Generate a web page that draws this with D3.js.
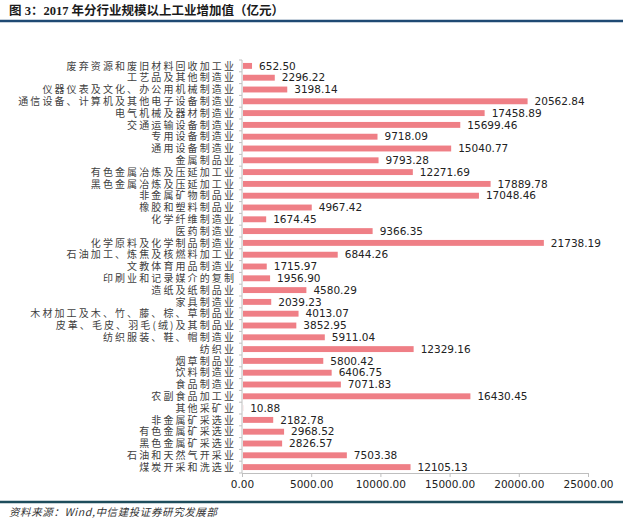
<!DOCTYPE html>
<html>
<head>
<meta charset="utf-8">
<script src="https://cdn.jsdelivr.net/npm/d3@7"></script>
<style>
  body { margin: 0; background: #fff; }
  svg { display: block; }
</style>
</head>
<body>
<script>
const categories = [
  '废弃资源和废旧材料回收加工业', '工艺品及其他制造业', '仪器仪表及文化、办公用机械制造业',
  '通信设备、计算机及其他电子设备制造业', '电气机械及器材制造业', '交通运输设备制造业',
  '专用设备制造业', '通用设备制造业', '金属制品业', '有色金属冶炼及压延加工业',
  '黑色金属冶炼及压延加工业', '非金属矿物制品业', '橡胶和塑料制品业', '化学纤维制造业',
  '医药制造业', '化学原料及化学制品制造业', '石油加工、炼焦及核燃料加工业', '文教体育用品制造业',
  '印刷业和记录媒介的复制', '造纸及纸制品业', '家具制造业', '木材加工及木、竹、藤、棕、草制品业',
  '皮革、毛皮、羽毛(绒)及其制品业', '纺织服装、鞋、帽制造业', '纺织业', '烟草制品业',
  '饮料制造业', '食品制造业', '农副食品加工业', '其他采矿业', '非金属矿采选业',
  '有色金属矿采选业', '黑色金属矿采选业', '石油和天然气开采业', '煤炭开采和洗选业'
]
const values = [
  652.50, 2296.22, 3198.14, 20562.84, 17458.89, 15699.46, 9718.09, 15040.77, 9793.28, 12271.69,
  17889.78, 17048.46, 4967.42, 1674.45, 9366.35, 21738.19, 6844.26, 1715.97, 1956.90, 4580.29,
  2039.23, 4013.07, 3852.95, 5911.04, 12329.16, 5800.42, 6406.75, 7071.83, 16430.45, 10.88,
  2182.78, 2968.52, 2826.57, 7503.38, 12105.13
]
const xTicks = [0, 5000, 10000, 15000, 20000, 25000]

const title = '图 3：2017 年分行业规模以上工业增加值（亿元）'
const source = '资料来源：Wind,中信建投证券研究发展部'

const fullWidth = 623
const fullHeight = 520
const barColor = '#EF7F86'
const axisColor = '#BFBFBF'

const data = categories.map((c, i) => ({ name: c, value: values[i] }))

const svg = d3.select('body')
  .append('svg')
  .attr('width', fullWidth)
  .attr('height', fullHeight)

// header
svg.append('text')
  .attr('x', 9)
  .attr('y', 15)
  .attr('font-family', '"Liberation Serif", "Noto Sans CJK SC", serif')
  .attr('font-weight', 'bold')
  .attr('font-size', 12.5)
  .attr('fill', '#1a1a1a')
  .text(title)

svg.append('line')
  .attr('x1', 0).attr('x2', fullWidth)
  .attr('y1', 21).attr('y2', 21)
  .attr('stroke', '#1F4A73')
  .attr('stroke-width', 2.5)

const x = d3.scaleLinear()
  .domain([0, 25000])
  .range([242, 588])

const y = d3.scaleBand()
  .domain(categories)
  .range([60, 473])
  .paddingInner(0.5)
  .paddingOuter(0.25)

// x axis
const xAxis = d3.axisBottom(x)
  .tickValues(xTicks)
  .tickFormat(d3.format('.2f'))
  .tickSize(4)
  .tickSizeOuter(0)

const gx = svg.append('g')
  .attr('transform', `translate(0,${473})`)
  .call(xAxis)
gx.select('.domain').attr('stroke', axisColor)
gx.selectAll('.tick line').attr('stroke', axisColor)
gx.selectAll('.tick text')
  .attr('y', 8)
  .attr('font-family', '"DejaVu Sans", Verdana, sans-serif')
  .attr('font-size', 10.5)
  .attr('fill', '#222')

// y axis line + category ticks between bands
const step = y.step()
const boundaries = d3.range(categories.length + 1).map(i => 60 + i * step)
svg.append('line')
  .attr('x1', x(0)).attr('x2', x(0))
  .attr('y1', 60).attr('y2', 473)
  .attr('stroke', axisColor)
svg.selectAll('.ytick')
  .data(boundaries)
  .enter().append('line')
  .attr('class', 'ytick')
  .attr('x1', x(0) - 3).attr('x2', x(0))
  .attr('y1', d => d).attr('y2', d => d)
  .attr('stroke', axisColor)

// bars
svg.selectAll('.bar')
  .data(data)
  .enter().append('rect')
  .attr('class', 'bar')
  .attr('x', x(0) + 1)
  .attr('y', d => y(d.name))
  .attr('width', d => Math.max(0, x(d.value) - x(0)))
  .attr('height', y.bandwidth())
  .attr('fill', barColor)

// category labels
svg.selectAll('.cat')
  .data(data)
  .enter().append('text')
  .attr('class', 'cat')
  .attr('x', 236)
  .attr('y', d => y(d.name) + y.bandwidth() / 2)
  .attr('dy', '0.36em')
  .attr('text-anchor', 'end')
  .attr('font-family', '"Noto Sans CJK SC", sans-serif')
  .attr('font-size', 10)
  .attr('letter-spacing', 2.1)
  .attr('fill', '#404040')
  .text(d => d.name)

// value labels
svg.selectAll('.val')
  .data(data)
  .enter().append('text')
  .attr('class', 'val')
  .attr('x', d => x(d.value) + 8)
  .attr('y', d => y(d.name) + y.bandwidth() / 2)
  .attr('dy', '0.36em')
  .attr('font-family', '"DejaVu Sans", Verdana, sans-serif')
  .attr('font-size', 10.5)
  .attr('fill', '#222')
  .text(d => d3.format('.2f')(d.value))

// footer
svg.append('line')
  .attr('x1', 0).attr('x2', fullWidth)
  .attr('y1', 502).attr('y2', 502)
  .attr('stroke', '#1E4D5C')
  .attr('stroke-width', 2.5)

svg.append('text')
  .attr('x', 9)
  .attr('y', 516)
  .attr('font-family', '"Noto Sans CJK SC", sans-serif')
  .attr('font-style', 'italic')
  .attr('font-size', 10.5)
  .attr('letter-spacing', 0.6)
  .attr('fill', '#333')
  .text(source)
</script>
</body>
</html>
